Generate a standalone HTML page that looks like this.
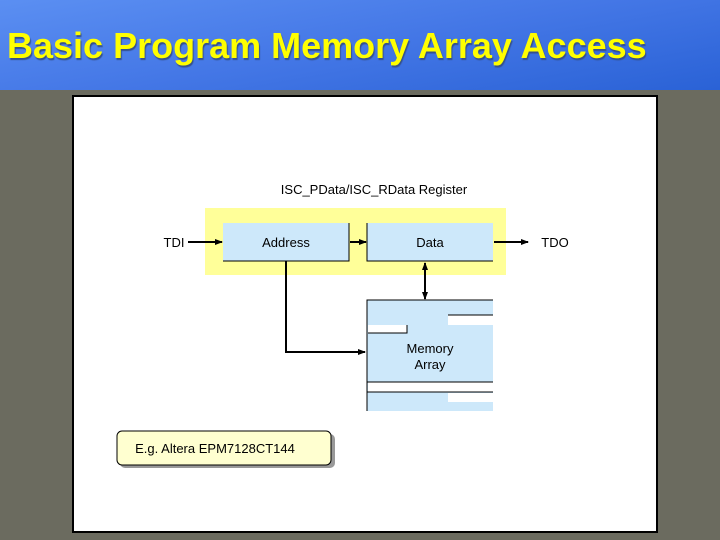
<!DOCTYPE html>
<html><head><style>
body{margin:0;width:720px;height:540px;overflow:hidden;background:#6b6b5f;font-family:"Liberation Sans",sans-serif;position:relative}
.hdr{position:absolute;left:0;top:0;width:720px;height:90px;background:linear-gradient(170deg,#5b8ff2 0%,#4477e6 50%,#2a62d6 100%)}
.hdr h1{margin:0;position:absolute;left:7px;top:25px;font-size:36px;color:#ffff00;font-weight:bold;text-shadow:1px 2px 1px #35508a;letter-spacing:0px}
.panel{position:absolute;left:72px;top:95px;width:582px;height:434px;background:#fff;border:2px solid #000}
</style></head><body>
<div class="hdr"><h1>Basic Program Memory Array Access</h1></div>
<div class="panel"></div>
<svg width="720" height="540" style="position:absolute;left:0;top:0" font-family="Liberation Sans, sans-serif">
<defs><marker id="a" markerWidth="8" markerHeight="8" refX="7" refY="4" orient="auto" markerUnits="userSpaceOnUse"><path d="M0,1 L8,4 L0,7z" fill="#000"/></marker>
<marker id="b" markerWidth="8" markerHeight="8" refX="1" refY="4" orient="auto" markerUnits="userSpaceOnUse"><path d="M8,1 L0,4 L8,7z" fill="#000"/></marker></defs>
<text x="374" y="194" font-size="13" text-anchor="middle">ISC_PData/ISC_RData Register</text>
<rect x="205" y="208" width="301" height="67" fill="#ffff99"/>
<rect x="223" y="223" width="126" height="38" fill="#cde8fa"/>
<path d="M349,223 V261 H223" stroke="#000" fill="none"/>
<rect x="367" y="223" width="126" height="38" fill="#cde8fa"/>
<path d="M367,223 V261 H493" stroke="#000" fill="none"/>
<text x="286" y="247" font-size="13" text-anchor="middle">Address</text>
<text x="430" y="247" font-size="13" text-anchor="middle">Data</text>
<text x="174" y="247" font-size="13" text-anchor="middle">TDI</text>
<text x="555" y="247" font-size="13" text-anchor="middle">TDO</text>
<line x1="188" y1="242" x2="222" y2="242" stroke="#000" stroke-width="2" marker-end="url(#a)"/>
<line x1="350" y1="242" x2="366" y2="242" stroke="#000" stroke-width="2" marker-end="url(#a)"/>
<line x1="494" y1="242" x2="528" y2="242" stroke="#000" stroke-width="2" marker-end="url(#a)"/>
<rect x="367" y="300" width="126" height="111" fill="#cde8fa"/>
<path d="M493,300 H367 V411" stroke="#000" fill="none"/>
<rect x="448" y="315" width="45" height="10" fill="#fff"/>
<line x1="448" y1="315" x2="493" y2="315" stroke="#000"/>
<rect x="368" y="325" width="39" height="8" fill="#fff"/>
<path d="M368,333 H407 V325" stroke="#000" fill="none"/>
<rect x="368" y="382" width="125" height="10" fill="#fff"/>
<line x1="367" y1="382" x2="493" y2="382" stroke="#000"/>
<line x1="367" y1="392" x2="493" y2="392" stroke="#000"/>
<rect x="448" y="393" width="45" height="9" fill="#fff"/>
<text x="430" y="353" font-size="13" text-anchor="middle">Memory</text>
<text x="430" y="369" font-size="13" text-anchor="middle">Array</text>
<path d="M286,261 V352 H365" stroke="#000" stroke-width="2" fill="none" marker-end="url(#a)"/>
<line x1="425" y1="263" x2="425" y2="299" stroke="#000" stroke-width="2" marker-end="url(#a)" marker-start="url(#b)"/>
<rect x="120" y="434" width="215" height="34" rx="5" fill="#999"/>
<rect x="117" y="431" width="214" height="34" rx="5" fill="#ffffd0" stroke="#000"/>
<text x="215" y="453" font-size="13" text-anchor="middle">E.g. Altera EPM7128CT144</text>
</svg>
</body></html>
